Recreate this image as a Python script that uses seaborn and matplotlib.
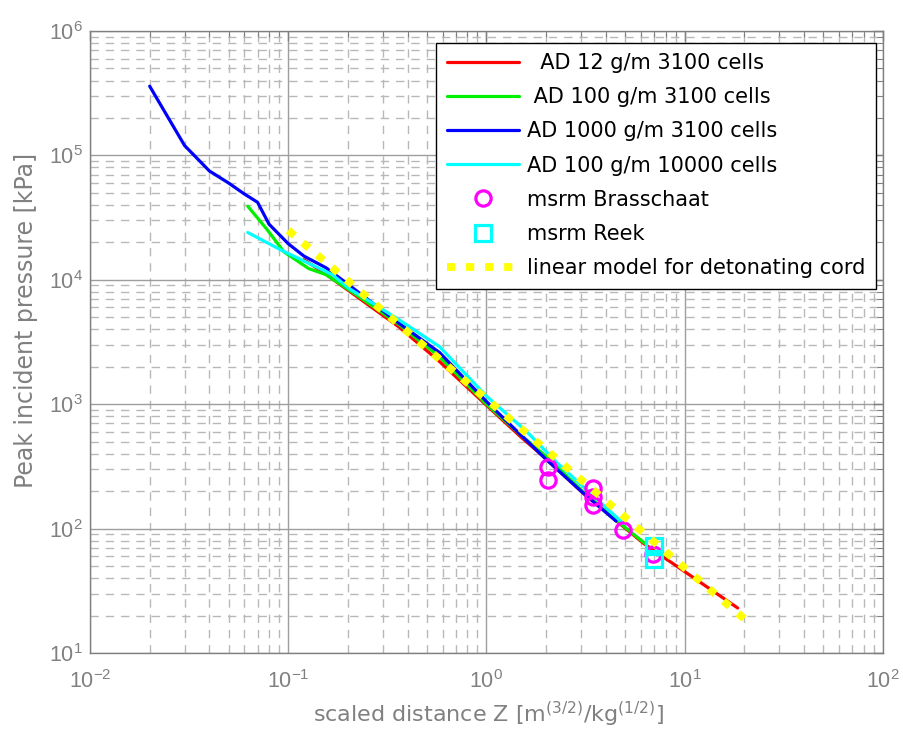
import numpy as np
import pandas as pd
import matplotlib
matplotlib.use("Agg")
import matplotlib.pyplot as plt
import seaborn as sns
from matplotlib.ticker import LogLocator, NullFormatter, LogFormatterSciNotation

# ---------------- data ----------------
red_z = [0.12, 0.15, 0.22, 0.36, 0.58, 1.0, 1.5, 1.9, 3.1, 6.2, 18.5]
red_p = [1.45e4, 1.15e4, 7.4e3, 4.2e3, 2.2e3, 980, 540, 390, 190, 76, 23]

green_z = [0.0625, 0.078, 0.095, 0.127, 0.155, 0.22, 0.36, 0.58, 1.0, 1.5, 2.0, 3.1, 4.9, 6.3]
green_p = [3.9e4, 2.55e4, 1.68e4, 1.23e4, 1.1e4, 7.6e3, 4.4e3, 2.4e3, 1.0e3, 560, 380, 195, 105, 76]

blue_z = [0.02, 0.03, 0.04, 0.05, 0.06, 0.07, 0.08, 0.10, 0.12, 0.155, 0.195, 0.36, 0.58, 1.0, 1.5, 2.0, 3.0, 4.5]
blue_p = [3.6e5, 1.2e5, 7.5e4, 6.0e4, 4.9e4, 4.2e4, 2.8e4, 1.95e4, 1.55e4, 1.25e4, 9.5e3, 4.5e3, 2.6e3, 1.05e3, 560, 360, 200, 115]

cyan_z = [0.0625, 0.093, 0.167, 0.203, 0.36, 0.58, 1.0, 1.6, 2.26, 3.2, 4.9]
cyan_p = [2.4e4, 1.72e4, 1.1e4, 8.5e3, 4.8e3, 2.9e3, 1.16e3, 600, 340, 205, 110]

brass_z = [2.05, 2.05, 3.46, 3.46, 3.46, 4.9, 6.9]
brass_p = [315, 246, 211, 181, 155, 97, 62]

reek_z = [7.0, 7.0]
reek_p = [73, 57]

model_z = [0.1, 20.0]
model_p = [2.5e4, 18.8]

labels = ["  AD 12 g/m 3100 cells", " AD 100 g/m 3100 cells",
          "AD 1000 g/m 3100 cells", "AD 100 g/m 10000 cells",
          "msrm Brasschaat", "msrm Reek", "linear model for detonating cord"]

# ---------------- style ----------------
sns.set_theme(style="white")
plt.rcParams["font.family"] = ["Liberation Sans", "DejaVu Sans"]
plt.rcParams["mathtext.fontset"] = "dejavusans"
plt.rcParams["axes.unicode_minus"] = False

GRAY = "#808080"
LABEL_FONT = ["DejaVu Sans"]

fig = plt.figure(figsize=(9.04, 7.33), dpi=100)
ax = fig.add_axes([90 / 904, 1 - 653 / 733, 793 / 904, 622 / 733])
ax.set_xscale("log")
ax.set_yscale("log")
ax.set_xlim(1e-2, 1e2)
ax.set_ylim(1e1, 1e6)


def draw(z, p, label, **kw):
    df = pd.DataFrame({"Z": z, "P": p})
    sns.lineplot(data=df, x="Z", y="P", ax=ax, estimator=None, sort=False,
                 label=label, **kw)


LW = 2.3
draw(red_z, red_p, labels[0], color="#ff0000", linewidth=LW)
draw(green_z, green_p, labels[1], color="#00f000", linewidth=LW)
draw(blue_z, blue_p, labels[2], color="#0000ff", linewidth=LW)
draw(cyan_z, cyan_p, labels[3], color="#00ffff", linewidth=LW)
draw(brass_z, brass_p, labels[4], color="#ff00ff", linestyle="", marker="o",
     markersize=11, markerfacecolor="none", markeredgecolor="#ff00ff",
     markeredgewidth=2.3)
draw(reek_z, reek_p, labels[5], color="#00ffff", linestyle="", marker="s",
     markersize=11, markerfacecolor="none", markeredgecolor="#00ffff",
     markeredgewidth=2.3)
draw(model_z, model_p, labels[6], color="#ffff00", linewidth=5.6,
     linestyle=(0, (1.05, 1.4)), dash_capstyle="butt")

# ---------------- axes cosmetics ----------------
ax.xaxis.set_major_locator(LogLocator(base=10, numticks=20))
ax.yaxis.set_major_locator(LogLocator(base=10, numticks=20))
ax.xaxis.set_minor_locator(LogLocator(base=10, subs=np.arange(2, 10), numticks=50))
ax.yaxis.set_minor_locator(LogLocator(base=10, subs=np.arange(2, 10), numticks=50))
ax.xaxis.set_minor_formatter(NullFormatter())
ax.yaxis.set_minor_formatter(NullFormatter())
ax.xaxis.set_major_formatter(LogFormatterSciNotation())
ax.yaxis.set_major_formatter(LogFormatterSciNotation())

ax.grid(which="major", color="#9e9e9e", linestyle="-", linewidth=1.0)
ax.grid(which="minor", color="#b8b8b8", linestyle=(0, (6, 5)), linewidth=1.0)
ax.set_axisbelow(True)

ax.tick_params(which="both", direction="in", top=True, right=True,
               colors=GRAY, labelcolor=GRAY, labelsize=15.5)
ax.tick_params(which="major", length=7, width=1)
ax.tick_params(which="minor", length=4, width=0.8)
ax.tick_params(axis="x", which="major", pad=12)
ax.tick_params(axis="y", which="major", pad=5)
for sp in ax.spines.values():
    sp.set_color(GRAY)
    sp.set_linewidth(1.0)

ax.set_xlabel("scaled distance Z [m$^{(3/2)}$/kg$^{(1/2)}$]", fontsize=16,
              color=GRAY, family=LABEL_FONT)
ax.set_ylabel("Peak incident pressure [kPa]", fontsize=17, color=GRAY,
              family=LABEL_FONT)
ax.xaxis.set_label_coords(0.5025, -0.076)
ax.yaxis.set_label_coords(-0.066, 0.5346)

handles, labs = ax.get_legend_handles_labels()
leg = ax.legend(handles, labs, loc="upper right",
                bbox_to_anchor=((876 - 90) / 793, (653 - 42.7) / 622),
                borderaxespad=0, prop={"family": LABEL_FONT, "size": 15},
                frameon=True, fancybox=False,
                edgecolor="black", framealpha=1, handlelength=3.5,
                handletextpad=0.37, labelspacing=0.68, borderpad=0.5,
                numpoints=1)
leg.get_frame().set_linewidth(1.0)
for t in leg.get_texts():
    t.set_color("black")

fig.savefig("out.png", dpi=100, facecolor="white")
